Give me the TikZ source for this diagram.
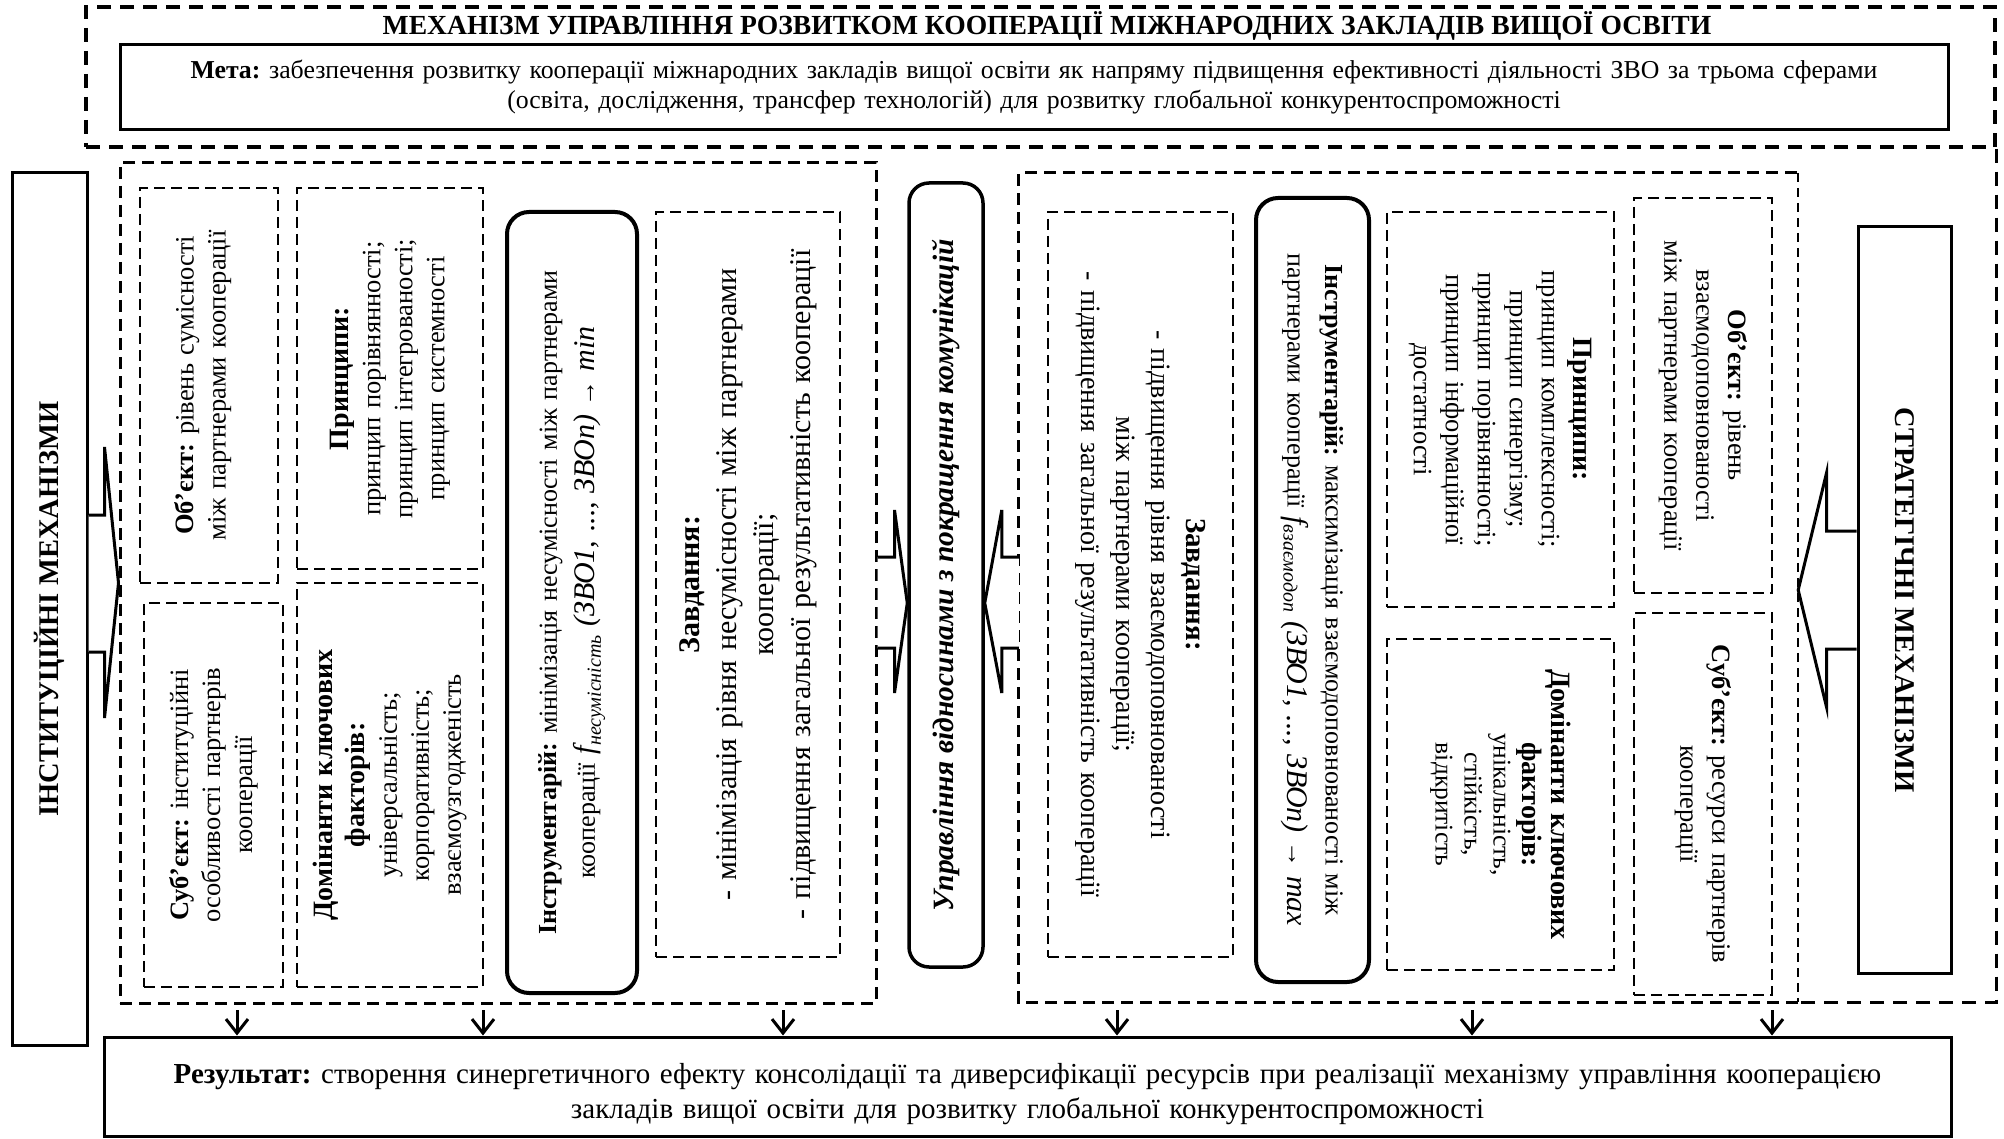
\documentclass[tikz,border=0pt]{standalone}
\usepackage{fontspec}
\IfFontExistsTF{LiberationSerif-Regular.ttf}
  {\setmainfont{LiberationSerif}[Extension=.ttf, UprightFont=*-Regular, BoldFont=*-Bold,
     ItalicFont=*-Italic, BoldItalicFont=*-BoldItalic]}
  {\setmainfont{Liberation Serif}[UprightFont=*, BoldFont=* Bold,
     ItalicFont=* Italic, BoldItalicFont=* Bold Italic]}
\usetikzlibrary{arrows.meta,fit,calc}
\frenchspacing

\newcommand\bodyfont{\fontsize{26.5}{32}\selectfont}
\newcommand\headfont{\fontsize{28}{32}\selectfont\bfseries}
\newcommand\titlefont{\fontsize{27.6}{30}\selectfont\bfseries}
\newcommand\mechfont{\fontsize{28.5}{32}\selectfont\bfseries}
\newcommand\formfont{\fontsize{30}{32}\selectfont\itshape}
\newcommand\subfont{\fontsize{20}{22}\selectfont\itshape}

\begin{document}
\begin{tikzpicture}[x=1pt,y=-1pt,
  dbox/.style={draw, line width=2.6pt, dash pattern=on 11pt off 6pt, inner sep=0pt},
  sbox/.style={draw, line width=3pt, inner sep=0pt},
  rbox/.style={draw, line width=4pt, rounded corners=22pt, inner sep=0pt},
  regbox/.style={draw, line width=3pt, dash pattern=on 12pt off 7pt, inner sep=0pt},
  regline/.style={line width=3pt, dash pattern=on 12pt off 7pt},
  thinline/.style={line width=2pt, dash pattern=on 9pt off 6pt},
  outerbox/.style={draw, line width=3.2pt, dash pattern=on 14pt off 9pt, inner sep=0pt},
  outerline/.style={line width=3.2pt, dash pattern=on 14pt off 9pt},
  tl/.style={rotate=90, align=center, font=\bodyfont, inner sep=0pt},
  tr/.style={rotate=-90, align=center, font=\bodyfont, inner sep=0pt},
  blockarrow/.style={draw, line width=3pt, fill=white, line join=miter},
  down/.style={line width=3pt, -{Straight Barb[length=14pt,width=22pt]}}
]
\useasboundingbox (0,0) rectangle (2004,1139);

% ---------- header: title and goal ----------
\node[outerbox, fit={(86,7)(1995,147)}] (topbox) {};
\node[anchor=base, font=\titlefont] (title) at (1047,35)
  {МЕХАНІЗМ УПРАВЛІННЯ РОЗВИТКОМ КООПЕРАЦІЇ МІЖНАРОДНИХ ЗАКЛАДІВ ВИЩОЇ ОСВІТИ};
\node[sbox, fit={(120,45)(1948,130)}] (goal) {};
\node[align=center, font=\fontsize{25.8}{30}\selectfont, text width=1800pt, inner sep=0pt] (goalt) at (goal.center)
  {\textbf{Мета:} забезпечення розвитку кооперації міжнародних закладів вищої освіти як напряму підвищення ефективності діяльності ЗВО за трьома сферами\\
   (освіта, дослідження, трансфер технологій) для розвитку глобальної конкурентоспроможності};

% ---------- side mechanisms ----------
\node[sbox, fit={(12,173)(87,1045)}] (inst) {};
\node[rotate=90, font=\mechfont, inner sep=0pt] (instt) at (inst.center) {ІНСТИТУЦІЙНІ МЕХАНІЗМИ};
\node[sbox, fit={(1858,227)(1951,973)}] (strat) {};
\node[rotate=-90, font=\mechfont, inner sep=0pt] (stratt) at (strat.center) {СТРАТЕГІЧНІ МЕХАНІЗМИ};

% ---------- left (institutional) block ----------
\node[regbox, fit={(120,163)(876,1003)}] (regL) {};

\node[dbox, fit={(140,188)(278,583)}] (objL) {};
\node[tl, text width=380pt] (objLt) at ($(objL.center)+(-6,0)$)
  {\textbf{Об’єкт:} рівень сумісності\\між партнерами кооперації};

\node[dbox, fit={(297,188)(483,569)}] (prinL) {};
\node[tl, text width=370pt] (prinLt) at (prinL.center)
  {{\headfont Принципи:}\\принцип порівнянності;\\принцип інтегрованості;\\принцип системності};

\node[dbox, fit={(144,603)(283,987)}] (subL) {};
\node[tl, text width=370pt] (subLt) at (subL.center)
  {\textbf{Суб’єкт:} інституційні\\особливості партнерів\\кооперації};

\node[dbox, fit={(297,583)(483,987)}] (domL) {};
\node[tl, text width=390pt] (domLt) at (domL.center)
  {{\headfont Домінанти ключових}\\{\headfont факторів:}\\універсальність;\\корпоративність;\\взаємоузгодженість};

\node[rbox, fit={(507,212)(637,993)}] (instrL) {};
\node[tl, text width=760pt, font=\fontsize{26}{38}\selectfont] (instrLt) at (instrL.center)
  {\textbf{Інструментарій:} мінімізація несумісності між партнерами\\
   кооперації {\formfont f}\raisebox{-6pt}{\subfont несумісність} {\formfont (ЗВО1, ..., ЗВОn)} → {\formfont min}};

\node[dbox, fit={(656,212)(840,957)}] (taskL) {};
\node[tl, text width=730pt, font=\fontsize{30}{37}\selectfont] (taskLt) at (taskL.center)
  {{\fontsize{30}{37}\selectfont\bfseries Завдання:}\\- мінімізація рівня несумісності між партнерами\\кооперації;\\- підвищення загальної результативність кооперації};

% ---------- central communication block ----------
\node[rbox, line width=3.5pt, rounded corners=20pt, fit={(909,183)(983,967)}] (mid) {};
\node[rotate=90, font=\fontsize{29.5}{32}\selectfont\bfseries\itshape, inner sep=0pt] (midt) at (mid.center)
  {Управління відносинами з покращення комунікацій};

% ---------- right (strategic) block ----------
\node[fit={(1019,173)(1798,1002)}, inner sep=0pt] (regR) {};

\node[dbox, fit={(1048,212)(1233,957)}] (taskR) {};
\node[tr, text width=730pt, font=\fontsize{28}{35}\selectfont] (taskRt) at (taskR.center)
  {{\fontsize{29}{35}\selectfont\bfseries Завдання:}\\- підвищення рівня взаємодоповнованості\\між партнерами кооперації;\\- підвищення загальної результативність кооперації};

\node[rbox, fit={(1256,198)(1369,982)}] (instrR) {};
\node[tr, text width=760pt, font=\fontsize{26}{38}\selectfont] (instrRt) at (instrR.center)
  {\textbf{Інструментарій:} максимізація взаємодоповнованості між\\
   партнерами кооперації {\formfont f}\raisebox{-4pt}{\subfont взаємодоп} {\formfont (ЗВО1, ..., ЗВОn)} → {\formfont max}};

\node[dbox, fit={(1387,212)(1614,607)}] (prinR) {};
\node[tr, text width=380pt] (prinRt) at (prinR.center)
  {{\headfont Принципи:}\\принцип комплексності;\\принцип синергізму;\\принцип порівнянності;\\принцип інформаційної\\достатності};

\node[dbox, fit={(1387,639)(1614,970)}] (domR) {};
\node[tr, text width=320pt, font=\fontsize{25.5}{29}\selectfont] (domRt) at (domR.center)
  {{\headfont Домінанти ключових}\\{\headfont факторів:}\\унікальність,\\стійкість,\\відкритість};

\node[dbox, fit={(1634,198)(1772,593)}] (objR) {};
\node[tr, text width=380pt] (objRt) at (objR.center)
  {\textbf{Об’єкт:} рівень\\взаємодоповнованості\\між партнерами кооперації};

\node[dbox, fit={(1634,613)(1772,995)}] (subR) {};
\node[tr, text width=370pt] (subRt) at (subR.center)
  {\textbf{Суб’єкт:} ресурси партнерів\\кооперації};

% frame around the right block, joined to the outer frame
\draw[outerline] (topbox.south east) -- (topbox.south east |- regR.south) -- (regR.south east);
\draw[regline] (regR.south east) -- (regR.south west) -- (regR.north west) -- (regR.north east);
\draw[thinline] (regR.north east) -- (regR.south east);

% ---------- result ----------
\node[sbox, fit={(104,1037)(1951,1136)}] (res) {};
\node[align=center, font=\fontsize{29}{35}\selectfont, text width=1830pt, inner sep=0pt] (rest) at ($(res.center)+(0,8)$)
  {\textbf{Результат:} створення синергетичного ефекту консолідації та диверсифікації ресурсів при реалізації механізму управління кооперацією\\
   закладів вищої освіти для розвитку глобальної конкурентоспроможності};

% ---------- block arrows ----------
\coordinate (lbase) at (inst.east |- 0,583);
\coordinate (ltip) at (regL.west |- lbase);
\draw[blockarrow] ($(lbase)+(0,-68)$) -- ++(16,0) -- ++(0,-68) -- (ltip)
  -- ($(lbase)+(16,135)$) -- ++(0,-66) -- ($(lbase)+(0,69)$);

\coordinate (mlbase) at (regL.east |- 0,603);
\coordinate (mltip) at (mid.west |- mlbase);
\draw[blockarrow] ($(mlbase)+(0,-46)$) -- ++(17,0) -- ++(0,-47) -- (mltip)
  -- ($(mlbase)+(17,90)$) -- ++(0,-45) -- ($(mlbase)+(0,45)$);

\coordinate (mrbase) at (regR.west |- 0,603);
\coordinate (mrtip) at (mid.east |- mrbase);
\draw[blockarrow] ($(mrbase)+(0,-46)$) -- ++(-17,0) -- ++(0,-47) -- (mrtip)
  -- ($(mrbase)+(-17,90)$) -- ++(0,-45) -- ($(mrbase)+(0,45)$);

\coordinate (rbase) at (strat.west |- 0,590);
\coordinate (rtip) at (regR.east |- rbase);
\draw[blockarrow] ($(rbase)+(0,-59)$) -- ++(-30,0) -- ++(0,-58) -- (rtip)
  -- ($(rbase)+(-30,117)$) -- ++(0,-58) -- ($(rbase)+(0,59)$);

% ---------- arrows into the result ----------
\foreach \i/\x in {1/237, 2/483, 3/783, 4/1117, 5/1472, 6/1772} {
  \coordinate (d\i) at (\x,1010);
  \draw[down] (d\i) -- (d\i |- res.north);
}
\end{tikzpicture}
\end{document}
